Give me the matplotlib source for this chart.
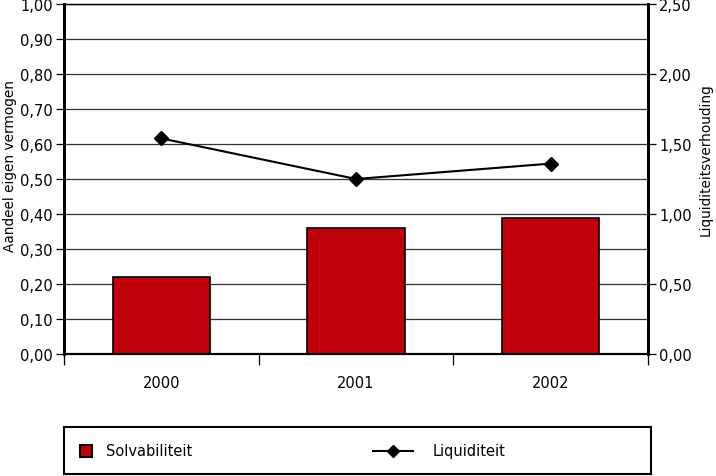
import matplotlib.pyplot as plt
import numpy as np
from matplotlib.patches import Rectangle
from matplotlib.ticker import FuncFormatter, MultipleLocator

plt.rcParams['font.family'] = ['DejaVu Sans']

years = ['2000', '2001', '2002']
solvabiliteit = [0.22, 0.36, 0.39]
liquiditeit = [1.54, 1.25, 1.36]

W, H = 716, 477
fig = plt.figure(figsize=(W/100, H/100), dpi=100)
ax = fig.add_axes([64/W, 1 - 355/H, 584/W, 350/H])
ax2 = ax.twinx()

x = np.arange(len(years))
comma = FuncFormatter(lambda v, p: f"{v:.2f}".replace('.', ','))
red = '#c0000b'

# bars (left axis)
ax.bar(x, solvabiliteit, width=0.5, color=red, edgecolor='black', linewidth=1.2, zorder=3)
ax.set_ylim(0, 1.0)
ax.yaxis.set_major_locator(MultipleLocator(0.1))
ax.yaxis.set_major_formatter(comma)
ax.grid(axis='y', color='#333333', linewidth=0.9, zorder=0)
ax.set_axisbelow(True)

ax.set_xlim(-0.5, 2.5)
ax.set_xticks(x)
ax.set_xticklabels(years)
ax.set_xticks([-0.5, 0.5, 1.5, 2.5], minor=True)
ax.tick_params(axis='x', which='major', length=0, pad=15, labelsize=10.5)
ax.tick_params(axis='x', which='minor', length=8, width=0.9, direction='out')
ax.tick_params(axis='y', length=6, width=0.9, labelsize=10.5, pad=2)

# line (right axis)
ax2.plot(x, liquiditeit, color='black', linewidth=1.5, marker='D', markersize=7.5, zorder=4)
ax2.set_ylim(0, 2.5)
ax2.yaxis.set_major_locator(MultipleLocator(0.5))
ax2.yaxis.set_major_formatter(comma)
ax2.tick_params(axis='y', length=6, width=0.9, labelsize=10.5, pad=2)

for a in (ax, ax2):
    a.spines['top'].set_linewidth(0.9)
    a.spines['left'].set_linewidth(2)
    a.spines['right'].set_linewidth(2)
    a.spines['bottom'].set_linewidth(1.5)

fig.text(10/W, 1 - 166/H, 'Aandeel eigen vermogen', rotation=90, ha='center', va='center', fontsize=9.8)
fig.text(706/W, 1 - 160/H, 'Liquiditeitsverhouding', rotation=90, ha='center', va='center', fontsize=9.8)

# legend box drawn in pixel units
lg = fig.add_axes([64/W, 2/H, 587/W, 47/H])
lg.set_xlim(0, 587)
lg.set_ylim(0, 47)
lg.set_xticks([])
lg.set_yticks([])
for s in lg.spines.values():
    s.set_linewidth(1.5)
lg.add_patch(Rectangle((16, 17), 12, 12, facecolor=red, edgecolor='black', linewidth=1.5))
lg.text(42, 23, 'Solvabiliteit', va='center', ha='left', fontsize=10.5)
lg.plot([309, 349], [23, 23], color='black', linewidth=1.5)
lg.plot([329], [23], color='black', marker='D', markersize=6.5)
lg.text(369, 23, 'Liquiditeit', va='center', ha='left', fontsize=10.5)

fig.savefig('out.png', dpi=100)
